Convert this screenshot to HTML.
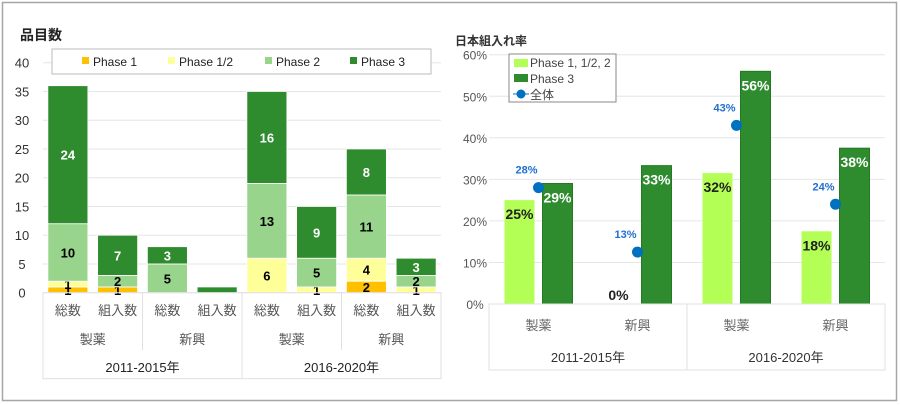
<!DOCTYPE html>
<html><head><meta charset="utf-8"><style>
body{margin:0;background:#fff;}
svg{display:block;font-family:"Liberation Sans","Noto Sans CJK JP",sans-serif;}
</style></head><body>
<svg id="c" width="900" height="405" viewBox="0 0 900 405">
<rect x="2.5" y="2.5" width="894" height="398" fill="#fff" stroke="#a6a6a6" stroke-width="1.5"/>
<text x="20" y="40" font-size="14" font-weight="bold" fill="#222">品目数</text>
<text x="455" y="45" font-size="12" font-weight="bold" fill="#333">日本組入れ率</text>
<g id="L"></g><g id="R"></g>
</svg>
<script>
// Left chart data
const leftSubs = ["総数","組入数","総数","組入数","総数","組入数","総数","組入数"];
const leftGroups = ["製薬","新興","製薬","新興"];
const years = ["2011-2015年","2016-2020年"];
const phaseNames = ["Phase 1","Phase 1/2","Phase 2","Phase 3"];
const p1 = [1,1,0,0,0,0,2,0];
const p12 = [1,0,0,0,6,1,4,1];
const p2 = [10,2,5,0,13,5,11,2];
const p3 = [24,7,3,1,16,9,8,3];
const leftTicks = [0,5,10,15,20,25,30,35,40];
// Right chart data
const rightCats = ["製薬","新興","製薬","新興"];
const rLight = [25,0,31.5,17.5];
const rDark = [29,33.3,56,37.5];
const rAll = [28,12.5,43,24];
const rLightLbl = ["25%","0%","32%","18%"];
const rDarkLbl = ["29%","33%","56%","38%"];
const rAllLbl = ["28%","13%","43%","24%"];
const rightTicks = [0,10,20,30,40,50,60];

const NS="http://www.w3.org/2000/svg";
function mk(p,t,a){const e=document.createElementNS(NS,t);for(const k in a)e.setAttribute(k,a[k]);p.appendChild(e);return e;}
function tx(p,x,y,s,a){const e=mk(p,"text",Object.assign({x:x,y:y,"text-anchor":"middle"},a));e.textContent=s;return e;}

// ---- Left
const L=document.getElementById("L");
const lx0=43,lx1=441,ly0=292.7,ly40=62.7;
const ly=v=>ly0-(ly0-ly40)*v/40;
const lcw=(lx1-lx0)/leftSubs.length;
const lxc=i=>lx0+lcw*(i+0.5);
leftTicks.forEach(t=>{
  const g=mk(L,"line",{x1:lx0,x2:lx1,y1:ly(t),y2:ly(t),stroke:"#e6e6e6","stroke-width":1});
  
  
  const l=tx(L,22,ly(t)+5,String(t),{"font-size":13,fill:"#333"});
  
  
});
const series=[p1,p12,p2,p3];
const cols=["#ffc000","#ffff99","#98d48c","#2e8b2e"];
const lblCol=["#000","#000","#000","#fff"];
leftSubs.forEach((s,i)=>{
  let base=0;
  series.forEach((arr,k)=>{
    const v=arr[i]; if(!v)return;
    const r=mk(L,"rect",{x:lxc(i)-20,y:ly(base+v),width:40,height:ly(base)-ly(base+v),fill:cols[k],stroke:"#fff","stroke-width":0.8});
    
    
    if(!(k==3&&i==3)){
      const t=tx(L,lxc(i),(ly(base)+ly(base+v))/2+5,String(v),{"font-size":13,"font-weight":"bold",fill:lblCol[k]});
      
      
    }
    base+=v;
  });
  const c=tx(L,lxc(i),315,s,{"font-size":13,fill:"#555"});
  
  
});
// axis frame
mk(L,"rect",{x:lx0,y:ly0,width:lx1-lx0,height:86,fill:"none",stroke:"#e0e0e0"});
[2,6].forEach(i=>mk(L,"line",{x1:lx0+lcw*i,x2:lx0+lcw*i,y1:ly0,y2:350,stroke:"#e0e0e0"}));
mk(L,"line",{x1:lx0+lcw*4,x2:lx0+lcw*4,y1:ly0,y2:ly0+86,stroke:"#e0e0e0"});
leftGroups.forEach((g,j)=>{
  const t=tx(L,lx0+lcw*(2*j+1),344,g,{"font-size":13,fill:"#555"});
  
  
});
years.forEach((y,j)=>{
  const t=tx(L,lx0+lcw*(4*j+2),372,y,{"font-size":13,fill:"#222"});
  
  
});
// legend
const lg=mk(L,"rect",{x:52,y:49,width:379,height:25,fill:"#fff",stroke:"#bbb"});


const lgx=[82,168,265,350];
phaseNames.forEach((n,k)=>{
  const s=mk(L,"rect",{x:lgx[k],y:57,width:7,height:7,fill:cols[k]});
  
  
  const t=tx(L,lgx[k]+11,66,n,{"font-size":12,fill:"#222","text-anchor":"start"});
  
  
});

// ---- Right
const R=document.getElementById("R");
const rx0=489,rx1=885,ry0=304,ry60=54.7;
const ry=v=>ry0-(ry0-ry60)*v/60;
const rcw=(rx1-rx0)/rightCats.length;
const rxc=i=>rx0+rcw*(i+0.5);
rightTicks.forEach(t=>{
  const g=mk(R,"line",{x1:rx0,x2:rx1,y1:ry(t),y2:ry(t),stroke:"#e6e6e6"});
  
  
  const l=tx(R,475,ry(t)+5,t+"%",{"font-size":12,fill:"#555"});
  
  
});
rightCats.forEach((c,i)=>{
  const a=mk(R,"rect",{x:rxc(i)-34,y:ry(rLight[i]),width:30,height:ry0-ry(rLight[i]),fill:"#b3ff55"});
  
  
  const b=mk(R,"rect",{x:rxc(i)+4,y:ry(rDark[i]),width:30,height:ry0-ry(rDark[i]),fill:"#2e8b2e",stroke:"#237a23"});
  
  
  const la=tx(R,rxc(i)-19,Math.min(ry(rLight[i])+19,ry0-4),rLightLbl[i],{"font-size":14,"font-weight":"bold",fill:"#222"});
  
  
  const lb=tx(R,rxc(i)+19,ry(rDark[i])+19,rDarkLbl[i],{"font-size":14,"font-weight":"bold",fill:"#fff"});
  
  
  const d=mk(R,"circle",{cx:rxc(i),cy:ry(rAll[i]),r:5.5,fill:"#0070c0"});
  
  
  const dl=tx(R,rxc(i)-12,ry(rAll[i])-14,rAllLbl[i],{"font-size":11,"font-weight":"bold",fill:"#1f6fd0"});
  
  
  const cl=tx(R,rxc(i),330,c,{"font-size":13,fill:"#666"});
  
  
});
mk(R,"rect",{x:rx0,y:ry0,width:rx1-rx0,height:66,fill:"none",stroke:"#e0e0e0"});
mk(R,"line",{x1:rx0+rcw*2,x2:rx0+rcw*2,y1:ry0,y2:ry0+66,stroke:"#e0e0e0"});
years.forEach((y,j)=>{
  const t=tx(R,rx0+rcw*(2*j+1),362,y,{"font-size":13,fill:"#333"});
  
  
});
const rl=mk(R,"rect",{x:509,y:54,width:107,height:48,fill:"#fff",stroke:"#888"});


mk(R,"rect",{x:514,y:59,width:14,height:8,fill:"#b3ff55"});
mk(R,"rect",{x:514,y:74,width:14,height:8,fill:"#2e8b2e"});
mk(R,"line",{x1:513,x2:529,y1:94,y2:94,stroke:"#0070c0"});
mk(R,"circle",{cx:521,cy:94,r:4.5,fill:"#0070c0"});
[["Phase 1, 1/2, 2",67],["Phase 3",83],["全体",99]].forEach(([n,y])=>{
  const t=tx(R,530,y,n,{"font-size":12,fill:"#444","text-anchor":"start"});
  
  
});
</script>
</body></html>
